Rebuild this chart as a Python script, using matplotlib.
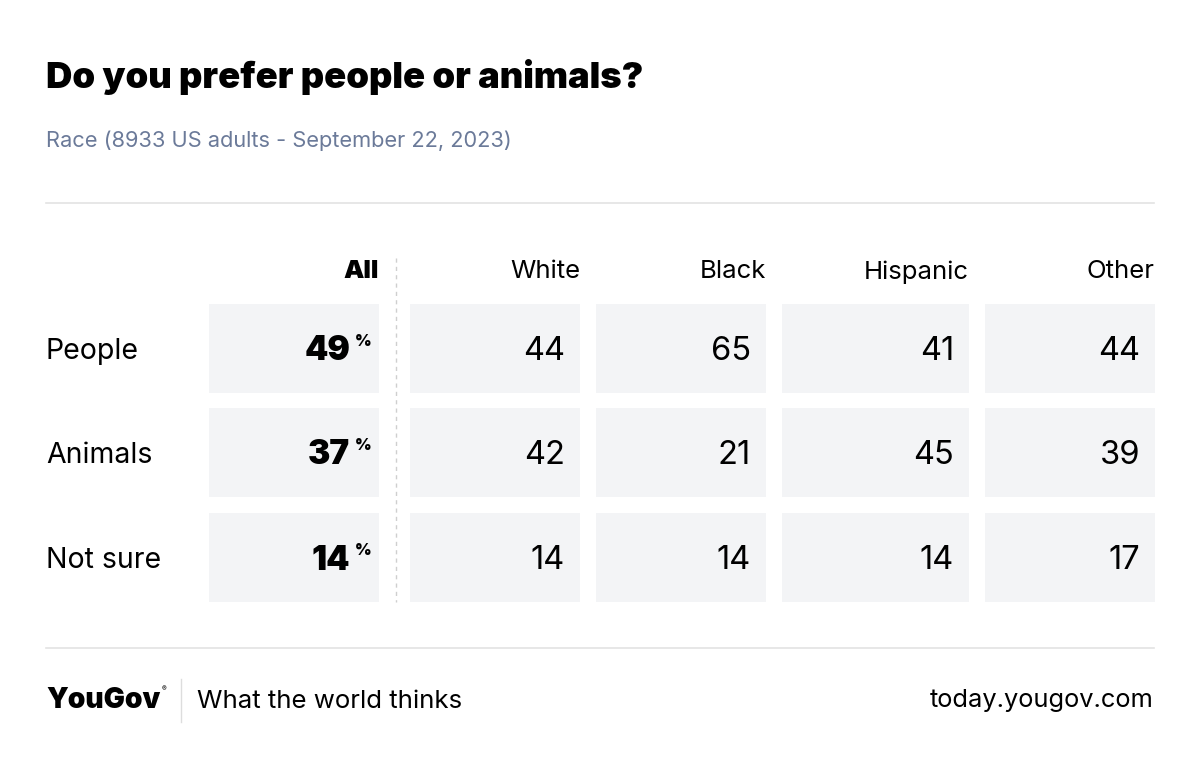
import matplotlib
matplotlib.use('Agg')
import matplotlib.pyplot as plt
from matplotlib.patches import Rectangle

# data
groups = ['All', 'White', 'Black', 'Hispanic', 'Other']
answers = ['People', 'Animals', 'Not sure']
all_vals = [49, 37, 14]
white = [44, 42, 14]
black = [65, 21, 14]
hispanic = [41, 45, 14]
other = [44, 39, 17]

title = 'Do you prefer people or animals?'
subtitle = 'Race (8933 US adults - September 22, 2023)'

# layout in pixels (figure is 1200x769)
col_left = [209, 410, 596, 782, 985]
col_w = [170, 170, 170, 187, 170]
row_top = [304, 408, 513]
row_h = 89
cell_bg = '#f3f4f6'
font = 'Inter'

plt.rcParams['font.family'] = [font, 'DejaVu Sans']

fig = plt.figure(figsize=(12, 7.69), dpi=100)
ax = fig.add_axes([0, 0, 1, 1])
ax.set_xlim(0, 1200)
ax.set_ylim(769, 0)
ax.axis('off')

ax.text(46, 77, title, fontsize=26.2, fontweight='black', va='center', ha='left', color='black')
ax.text(46, 141, subtitle, fontsize=15.7, va='center', ha='left', color='#6b7a99')
ax.plot([46, 1154], [203, 203], color='#e3e3e3', lw=1.2)

cols = [all_vals, white, black, hispanic, other]
for j, (g, vals) in enumerate(zip(groups, cols)):
    right = col_left[j] + col_w[j]
    ax.text(right, 272, g, fontsize=18.5, ha='right', va='center',
            fontweight='black' if j == 0 else 'normal', color='black')
    for i, v in enumerate(vals):
        ax.add_patch(Rectangle((col_left[j], row_top[i]), col_w[j], row_h,
                               facecolor=cell_bg, edgecolor='none'))
        yc = row_top[i] + row_h / 2 + 3
        if j == 0:
            ax.text(right - 29, yc, str(v), fontsize=24, fontweight='black',
                    ha='right', va='center', color='black')
            ax.text(right - 8, yc - 10, '%', fontsize=11.5, fontweight='black',
                    ha='right', va='center', color='black')
        else:
            ax.text(right - 15, yc, str(v), fontsize=23.5, ha='right', va='center', color='black')

for i, a in enumerate(answers):
    ax.text(46, row_top[i] + row_h / 2 + 3, a, fontsize=20.5, ha='left', va='center', color='black')

# dashed divider after the All column
ax.plot([396, 396], [258, 602], color='#cfcfcf', lw=1, ls=(0, (3, 3)))

ax.plot([46, 1154], [648, 648], color='#e3e3e3', lw=1.2)

# footer
ax.text(46, 701, 'YouGov', fontsize=20.3, fontweight='black', ha='left', va='center', color='black')
ax.text(162, 689, '®', fontsize=5, ha='left', va='center', color='black')
ax.plot([181, 181], [679, 722], color='#dddddd', lw=1)
ax.text(197, 701, 'What the world thinks', fontsize=18.6, ha='left', va='center', color='black')
ax.text(1154, 701, 'today.yougov.com', fontsize=18.3, ha='right', va='center', color='black')

fig.savefig('out.png', dpi=100, facecolor='white')
